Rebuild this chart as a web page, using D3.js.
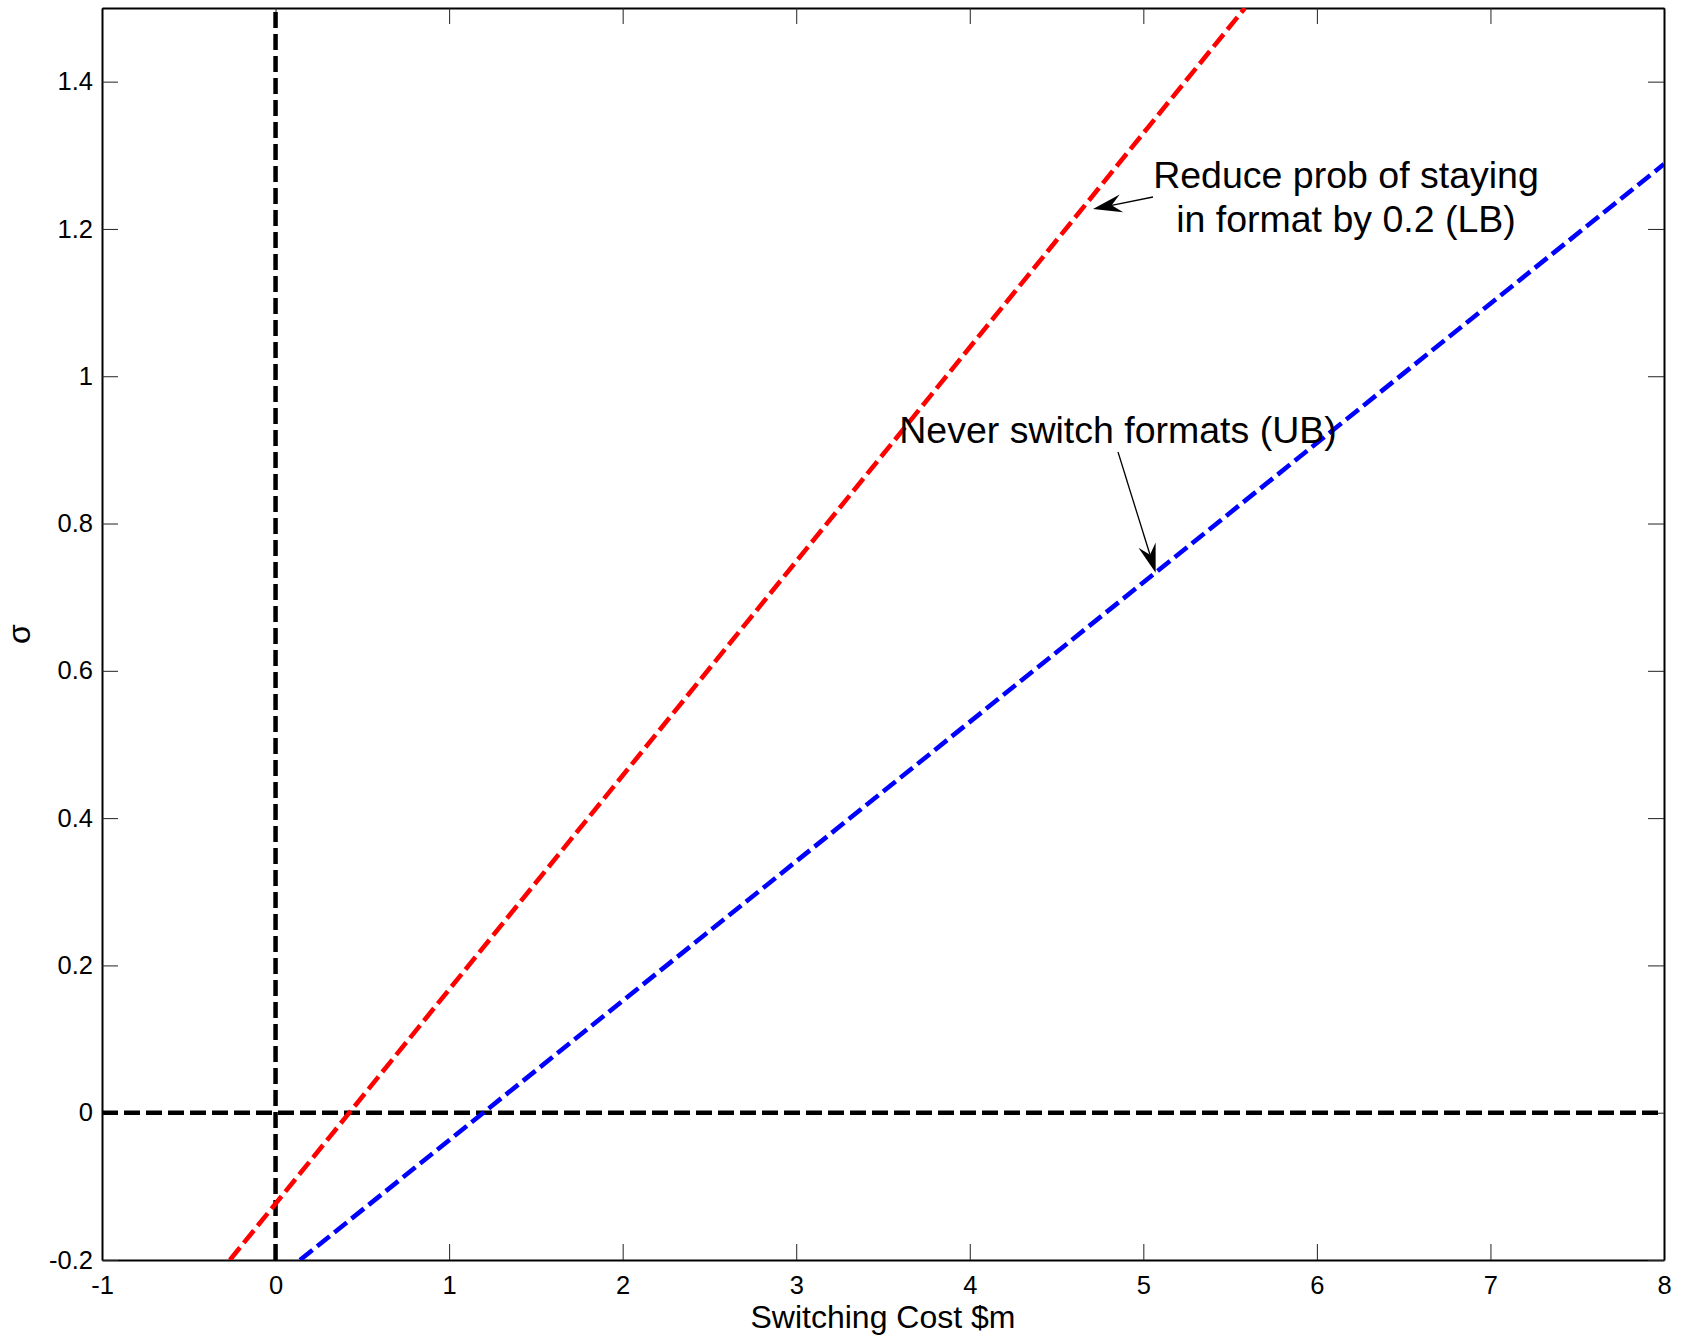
<!DOCTYPE html>
<html>
<head>
<meta charset="utf-8">
<script src="https://cdn.jsdelivr.net/npm/d3@7"></script>
<style>
  html, body { margin: 0; padding: 0; background: #fff; }
  svg { display: block; }
  text { font-family: "Liberation Sans", Arial, Helvetica, sans-serif; fill: #000; }
</style>
</head>
<body>
<svg id="chart" width="1682" height="1338"></svg>
<script>
// Axis ticks and labels
const xTickValues = [-1, 0, 1, 2, 3, 4, 5, 6, 7, 8];
const xTickLabels = ["-1", "0", "1", "2", "3", "4", "5", "6", "7", "8"];
const yTickValues = [-0.2, 0, 0.2, 0.4, 0.6, 0.8, 1, 1.2, 1.4];
const yTickLabels = ["-0.2", "0", "0.2", "0.4", "0.6", "0.8", "1", "1.2", "1.4"];

// Lower bound: reduce probability of staying in format by 0.2
const lbCost  = [-0.263, 5.585];
const lbSigma = [-0.2, 1.5];
// Upper bound: never switch formats
const ubCost  = [0.141, 8];
const ubSigma = [-0.2, 1.288];

// Zero reference lines
const zeroCost  = [0, 0];
const zeroSigma = [-0.2, 1.5];
const baseCost  = [-1, 8];
const baseSigma = [0, 0];

// Annotation arrow tips (data coordinates next to each line)
const lbTip = [4.71, 1.227];
const ubTip = [5.071, 0.733];

const svg = d3.select("#chart");
const W = 1682, H = 1338;
const plot = { left: 102, right: 1664, top: 8, bottom: 1260 };

svg.append("rect").attr("width", W).attr("height", H).attr("fill", "#fff");

const x = d3.scaleLinear().domain([-1, 8]).range([plot.left, plot.right]);
const y = d3.scaleLinear().domain([-0.2, 1.5]).range([plot.bottom, plot.top]);

svg.append("defs").append("clipPath").attr("id", "plotClip")
  .append("rect")
  .attr("x", plot.left).attr("y", plot.top)
  .attr("width", plot.right - plot.left).attr("height", plot.bottom - plot.top);

const tickLen = 16;
const tickFont = "25.5px";

function styleAxis(g) {
  g.select(".domain").attr("stroke", "#000").attr("stroke-width", 2);
  g.selectAll(".tick line").attr("stroke", "#222").attr("stroke-width", 1);
  g.selectAll(".tick text").style("font-size", tickFont).attr("fill", "#000");
}

// Bottom axis with labels
svg.append("g")
  .attr("transform", `translate(0,${plot.bottom})`)
  .call(d3.axisBottom(x).tickValues(xTickValues)
    .tickFormat((d, i) => xTickLabels[i])
    .tickSizeInner(-tickLen).tickSizeOuter(0).tickPadding(16))
  .call(styleAxis);

// Top axis, ticks only
svg.append("g")
  .attr("transform", `translate(0,${plot.top})`)
  .call(d3.axisTop(x).tickValues(xTickValues).tickFormat("")
    .tickSizeInner(-tickLen).tickSizeOuter(0))
  .call(styleAxis);

// Left axis with labels
svg.append("g")
  .attr("transform", `translate(${plot.left},0)`)
  .call(d3.axisLeft(y).tickValues(yTickValues)
    .tickFormat((d, i) => yTickLabels[i])
    .tickSizeInner(-tickLen).tickSizeOuter(0).tickPadding(9))
  .call(styleAxis);

// Right axis, ticks only
svg.append("g")
  .attr("transform", `translate(${plot.right},0)`)
  .call(d3.axisRight(y).tickValues(yTickValues).tickFormat("")
    .tickSizeInner(-tickLen).tickSizeOuter(0))
  .call(styleAxis);

// Lines
const line = d3.line().x(d => x(d[0])).y(d => y(d[1]));
const lines = svg.append("g").attr("clip-path", "url(#plotClip)");

function drawSeries(xs, ys, color, width) {
  lines.append("path")
    .datum(xs.map((v, i) => [v, ys[i]]))
    .attr("d", line)
    .attr("fill", "none")
    .attr("stroke", color)
    .attr("stroke-width", width)
    .attr("stroke-dasharray", "16,6");
}

drawSeries(zeroCost, zeroSigma, "#000", 4.5);
drawSeries(baseCost, baseSigma, "#000", 4.5);
drawSeries(lbCost, lbSigma, "#ff0000", 4.6);
drawSeries(ubCost, ubSigma, "#0000ff", 4.6);

// Annotation arrows
function arrow(x0, y0, x1, y1) {
  const dx = x1 - x0, dy = y1 - y0;
  const len = Math.hypot(dx, dy);
  const ux = dx / len, uy = dy / len;
  const px = -uy, py = ux;
  const L = 29, Wd = 9, N = 19;
  const bx = x1 - ux * L, by = y1 - uy * L;
  const nx = x1 - ux * N, ny = y1 - uy * N;
  svg.append("line")
    .attr("x1", x0).attr("y1", y0).attr("x2", nx).attr("y2", ny)
    .attr("stroke", "#000").attr("stroke-width", 1.3);
  svg.append("path")
    .attr("d", `M${x1},${y1} L${bx + px * Wd},${by + py * Wd} L${nx},${ny} L${bx - px * Wd},${by - py * Wd} Z`)
    .attr("fill", "#000");
}

arrow(1153, 197, x(lbTip[0]), y(lbTip[1]));
arrow(1118, 452, x(ubTip[0]), y(ubTip[1]));

// Annotation text
const annFont = "37.5px";
svg.append("text")
  .attr("x", 1346).attr("y", 188)
  .attr("text-anchor", "middle").style("font-size", annFont)
  .text("Reduce prob of staying");
svg.append("text")
  .attr("x", 1346).attr("y", 232)
  .attr("text-anchor", "middle").style("font-size", annFont)
  .text("in format by 0.2 (LB)");
svg.append("text")
  .attr("x", 1118).attr("y", 443)
  .attr("text-anchor", "middle").style("font-size", annFont)
  .text("Never switch formats (UB)");

// Axis titles
svg.append("text")
  .attr("x", (plot.left + plot.right) / 2).attr("y", 1328)
  .attr("text-anchor", "middle").style("font-size", "32px")
  .text("Switching Cost $m");

svg.append("text")
  .attr("transform", `translate(30,${(plot.top + plot.bottom) / 2}) rotate(-90)`)
  .attr("text-anchor", "middle").style("font-size", "32px")
  .text("σ");
</script>
</body>
</html>
